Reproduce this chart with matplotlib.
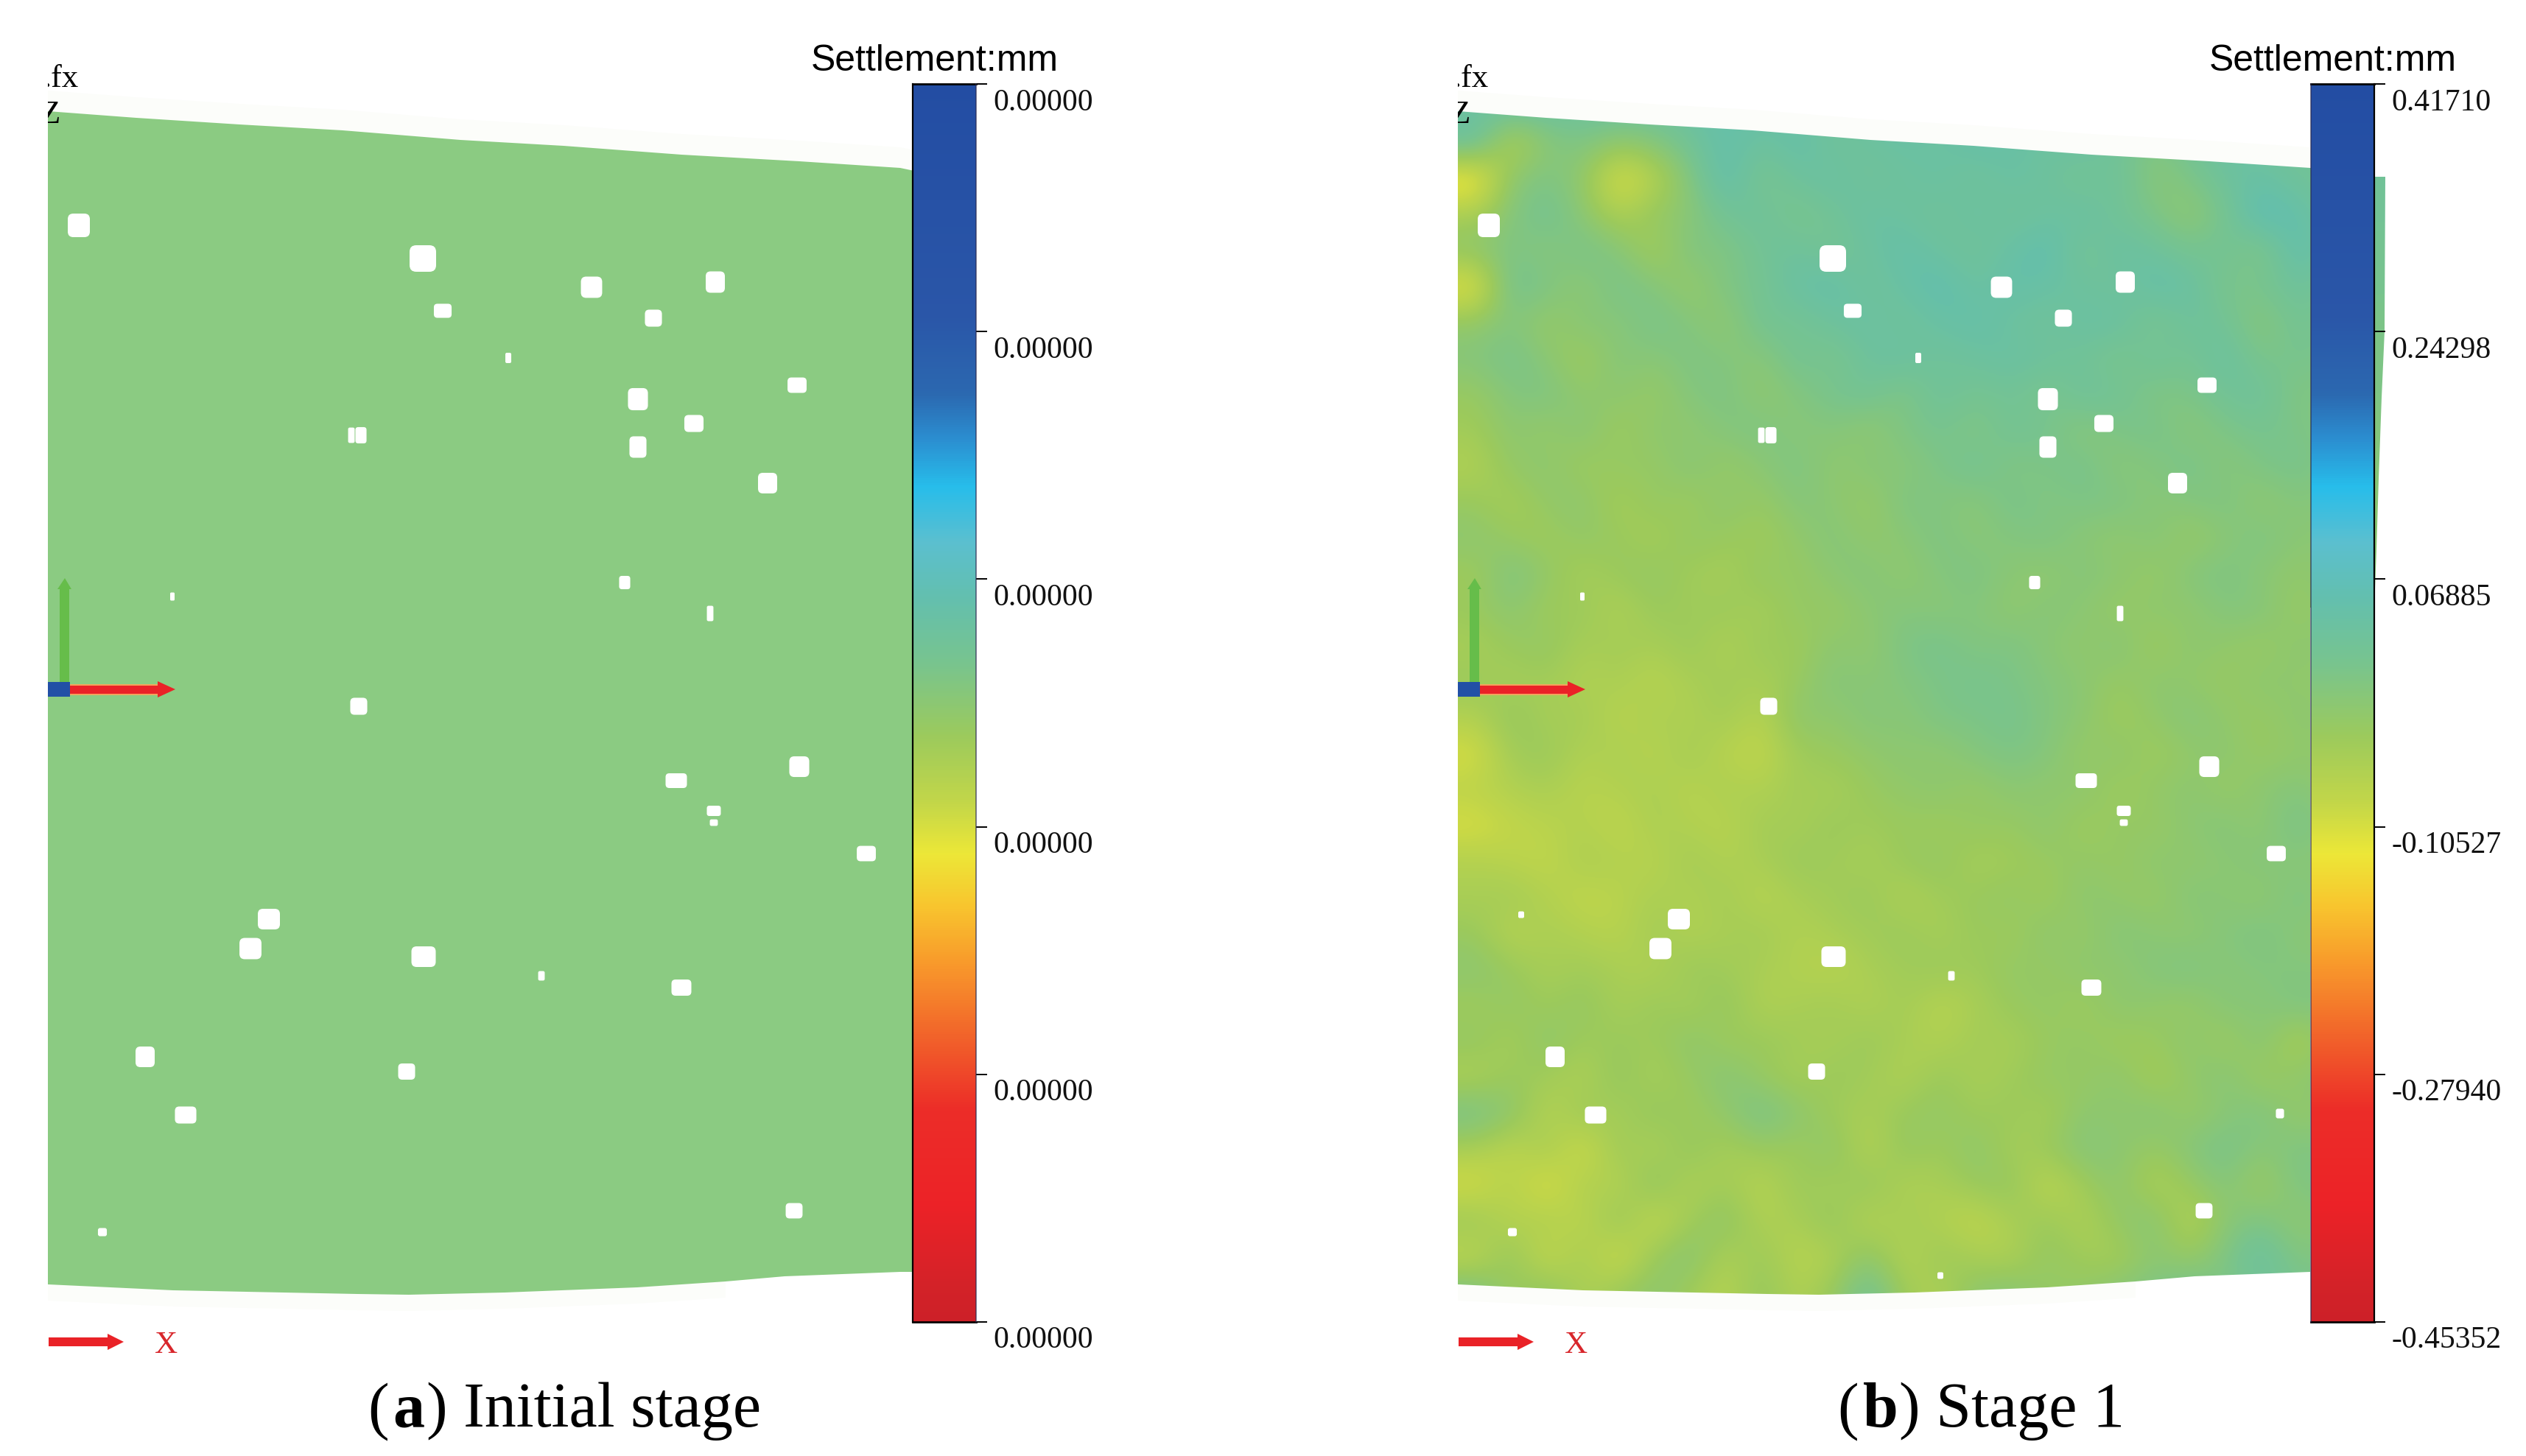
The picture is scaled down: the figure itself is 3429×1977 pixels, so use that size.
import numpy as np
import matplotlib
matplotlib.use("Agg")
import matplotlib.pyplot as plt
from matplotlib.cm import ScalarMappable
from matplotlib.colors import LinearSegmentedColormap, Normalize
from matplotlib.patches import FancyBboxPatch, Polygon, Rectangle
from matplotlib.transforms import ScaledTranslation

W, H = 3430, 1977

TICKS_A = ["0.00000"] * 6
TICKS_B = ["0.41710", "0.24298", "0.06885", "-0.10527", "-0.27940", "-0.45352"]
VMAX_B, VMIN_B = 0.41710, -0.45352
CAPTION_A = ("(", "a", ") Initial stage")
CAPTION_B = ("(", "b", ") Stage 1")

# colour bar stops, read from top (0) to bottom (1)
BAR_POS = [0, .187, .25, .285, .325, .37, .415, .468, .527, .58, .622, .664, .71, .762, .828, .906, .97, 1]
BAR_COL = ["#234da3", "#2a56a8", "#2b68b0", "#2b8ccf", "#27bdea", "#5bbfcf", "#63bfae", "#78c48e", "#9cca5c",
           "#c2d649", "#ece737", "#f8c52e", "#f89a2b", "#f26a2a", "#ec2d28", "#ec2227", "#d42228", "#cc2028"]

# scanned surface outline, x measured from the left crop edge
TOP_X = [0, 120, 260, 400, 560, 700, 860, 1020, 1157, 1176]
TOP_Y = [151, 160, 169, 177, 190, 198, 210, 219, 228, 232]
BOT_X = [1176, 1157, 1000, 920, 800, 620, 490, 420, 170, 0]
BOT_Y = [1727, 1727, 1733, 1740, 1748, 1755, 1758, 1757, 1752, 1744]

# voids in the point cloud: x from left crop edge, y, width, height
HOLE_X = [42, 509, 536, 738, 822, 906, 625, 1017, 801, 877, 801, 977, 412, 425, 169, 783, 899, 422, 853, 1020,
          904, 904, 1111, 300, 275, 510, 670, 860, 132, 487, 187, 1013, 74]
HOLE_Y = [306, 351, 422, 390, 432, 383, 486, 523, 542, 575, 607, 656, 591, 591, 810, 791, 833, 959, 1060, 1041,
          1101, 1117, 1159, 1248, 1288, 1299, 1325, 1341, 1435, 1455, 1514, 1644, 1673]
HOLE_W = [30, 36, 24, 29, 23, 26, 8, 26, 27, 26, 23, 26, 9, 15, 6, 15, 9, 23, 29, 27,
          19, 11, 26, 30, 30, 33, 9, 27, 26, 23, 29, 23, 12]
HOLE_H = [32, 36, 19, 29, 23, 29, 14, 21, 30, 23, 29, 28, 21, 22, 11, 18, 21, 23, 20, 28,
          14, 9, 21, 28, 29, 28, 13, 22, 28, 22, 23, 21, 11]
# small voids seen only in stage 1
HOLE_X_B = [86, 1116, 655]
HOLE_Y_B = [1242, 1512, 1732]
HOLE_W_B = [8, 11, 8]
HOLE_H_B = [9, 13, 9]

# settlement of stage 1 in 0.01 mm, estimated from the colours in the picture
STAGE1 = [
    [2, 3, 3, 2, 3, 2, 3, 4, 3, 3, 2, 3, 4, 3, 3, 3, 4, 4, 3, 3, 3, 3, 3, 3, 3, 3],
    [3, -9, -3, -1, -4, -2, 1, 4, 2, 4, 1, 2, 3, 2, 4, 3, 2, 3, 1, -2, 1, 3, 2, 1, 2, 2],
    [-16, -3, -1, -4, -13, -9, -2, 5, -1, 2, 3, 1, 2, 3, 1, 3, 2, 0, 2, -3, -1, 2, 3, 1, 1, 1],
    [-7, -2, 1, -3, -8, -4, -3, 1, 2, -1, 1, 3, 2, 1, 3, 1, 2, 3, 1, -1, -4, 0, 6, 4, 1, 1],
    [-3, -1, -3, 0, -2, -7, -1, -2, 1, 2, 0, 2, 4, 2, 1, 3, 5, 0, 3, 2, 0, 1, -2, 5, 1, 0],
    [-14, 1, -1, -4, 0, -2, -5, -1, 0, 3, 4, 1, 3, 5, 2, 4, 3, 2, 1, 4, 3, -1, 0, 2, 0, 0],
    [-4, -2, -5, -2, -3, 0, -2, -4, 1, 0, 2, 3, 1, 3, 4, 2, 1, 3, 3, -1, 2, 1, -3, 1, -1, -1],
    [-2, 0, -3, -6, -2, -3, -1, -2, -3, 1, -1, 2, 3, 1, 2, 3, 2, 1, -1, 2, 0, 3, -1, 0, -1, -1],
    [-5, -2, -1, -4, -3, -5, -2, -1, -4, -2, 0, 1, -2, 2, 0, 1, -1, 2, 1, -2, -1, 1, 2, -2, -1, -1],
    [-6, -3, -5, -2, -6, -3, -4, -2, -1, -3, -2, -4, -1, 0, -2, 1, 0, -3, -1, 0, -3, -1, 0, -1, -2, -2],
    [-8, -4, -3, -6, -4, -5, -2, -5, -3, -1, -4, -2, -3, -1, 1, -2, -1, 0, -3, -2, 0, -3, -1, 0, -2, -2],
    [-5, -7, -4, -3, -7, -4, -6, -3, -5, -2, -3, -5, -1, -2, -3, 0, -2, -1, -1, -3, -2, -1, -4, -2, -3, -3],
    [-3, -5, -6, -4, -5, -7, -4, -5, -6, -4, -2, -4, -3, -1, -3, -2, -1, -3, -4, -2, -5, -3, -1, -3, -3, -3],
    [-6, -1, -4, -7, -5, -4, -6, -7, -4, -5, -3, -2, -4, -2, -1, -3, -4, -2, -3, -5, -2, -1, -3, -4, -3, -3],
    [-5, -3, -6, -5, -8, -5, -6, -5, -7, -4, -5, -3, -2, -3, -2, -4, -2, -3, -5, -3, -4, -2, -2, -5, -3, -3],
    [-7, -5, -4, -7, -6, -7, -5, -8, -5, -6, -3, -4, -1, 0, -2, -1, -3, -4, -2, -6, -3, -4, -5, -3, -4, -4],
    [-5, -7, -6, -8, -7, -9, -7, -6, -7, -5, -2, -3, -2, -1, 0, -1, -2, -3, -5, -3, -4, -5, -3, -4, -4, -4],
    [-8, -4, -7, -6, -9, -7, -8, -6, -9, -3, -4, -2, -3, -1, -1, 0, -2, -3, -6, -4, -2, -4, -5, -3, -4, -4],
    [-12, -6, -5, -8, -7, -9, -6, -9, -10, -6, -5, -4, -3, -4, -2, -1, -2, -5, -3, -6, -4, -3, -5, -4, -4, -4],
    [-9, -8, -7, -9, -8, -7, -9, -7, -8, -6, -7, -5, -4, -3, -5, -3, -4, -3, -6, -4, -3, -5, -3, -2, -4, -4],
    [-12, -10, -9, -8, -10, -7, -8, -9, -6, -7, -5, -6, -5, -6, -4, -5, -3, -6, -4, -5, -3, -2, -4, 0, -3, -3],
    [-8, -9, -10, -7, -8, -9, -6, -8, -7, -5, -6, -7, -5, -4, -7, -6, -5, -4, -5, -3, -4, -3, -2, -3, -3, -3],
    [-7, -6, -8, -10, -9, -7, -8, -6, -9, -7, -6, -5, -8, -6, -5, -4, -6, -3, -4, -5, -2, -3, -4, -1, -3, -3],
    [-5, -9, -7, -8, -9, -6, -8, -7, -6, -8, -7, -6, -5, -7, -5, -6, -3, -5, -2, -3, -4, -2, -1, -3, -3, -3],
    [-3, -5, -7, -6, -7, -8, -5, -6, -7, -8, -9, -7, -6, -5, -6, -4, -5, -3, -4, -2, -1, -3, -2, -2, -2, -2],
    [-6, -4, -6, -4, -7, -5, -7, -4, -8, -7, -6, -8, -6, -9, -7, -5, -4, -6, -3, -4, -5, -2, -3, -1, -2, -2],
    [-4, -7, -3, -6, -5, -6, -3, -6, -5, -6, -7, -5, -7, -8, -6, -7, -5, -4, -6, -5, -3, -6, -2, -8, -3, -3],
    [-8, -5, -6, -8, -4, -7, -5, -2, -5, -7, -5, -6, -8, -5, -7, -6, -4, -5, -3, -7, -4, -2, -6, -3, -3, -3],
    [0, -3, -9, -5, -7, -4, -6, -4, 0, -3, -6, -7, -5, -4, -6, -5, -7, -3, -4, -2, -5, -3, -1, -5, -3, -3],
    [-7, -10, -6, -12, -5, -8, -4, -7, -5, -6, -3, -9, -4, -6, -3, -7, -5, -2, -3, -5, -2, 0, -3, -1, -2, -2],
    [-12, -8, -13, -7, -9, -3, -8, -6, -9, -5, -7, -4, -8, -7, -5, -4, -10, -6, -3, -8, -5, -2, -6, -1, -2, -2],
    [-5, -9, -7, -10, -4, -11, -6, -3, -8, -7, -4, -9, -6, -8, -10, -7, -5, -8, -4, -2, -9, -3, -1, -4, -2, -2],
    [-10, -4, -11, -6, -12, -5, -2, -8, -5, -9, -8, -3, -9, -5, -7, -8, -4, -6, -7, -3, -5, -1, 3, -2, -1, -1],
    [0, -6, -3, -8, -5, -3, -6, -9, -4, -8, -5, 2, -6, -8, -3, -2, -5, -4, -2, -1, 1, -2, 1, 0, 0, 0],
]
# the table above read a little too yellow against the reference
FIELD_SHIFT = 0.012

SERIF = "Liberation Serif"
SANS = "Liberation Sans"

stops = list(zip(1 - np.array(BAR_POS[::-1]), BAR_COL[::-1]))
bar_cmap = LinearSegmentedColormap.from_list("settlement", stops, N=512)

fig = plt.figure(figsize=(W / 100, H / 100), dpi=100, facecolor="white")
ax = fig.add_axes([0, 0, 1, 1])
ax.axis("off")
ax.set_xlim(0, W)
ax.set_ylim(H, 0)


def outline(x0):
    top = [(x0 + x, y) for x, y in zip(TOP_X, TOP_Y)]
    bot = [(x0 + x, y) for x, y in zip(BOT_X, BOT_Y)]
    return top, bot


def draw_holes(x0, xs, ys, ws, hs):
    for x, y, w, h in zip(xs, ys, ws, hs):
        r = min(w, h) * 0.25
        box = FancyBboxPatch((x0 + x - w / 2 + r, y - h / 2 + r), w - 2 * r, h - 2 * r,
                             boxstyle="round,pad=%.1f" % r, fc="white", ec="none", zorder=3)
        ax.add_patch(box)


def draw_fringe(x0):
    # pale compression halo next to the top and bottom of the scan
    top, bot = outline(x0)
    upper = [(x, y - 28) for x, y in top[::-1]]
    ax.add_patch(Polygon(top + upper, fc="#fcfdfa", ec="none", zorder=1))
    lower = [(x, y + 22) for x, y in bot[3:][::-1]]
    ax.add_patch(Polygon(bot[3:] + lower, fc="#fcfdfa", ec="none", zorder=1))


def draw_triad(x0):
    d = x0 - 65
    # vertical green axis
    ax.add_patch(Polygon([(d + 81, 930), (d + 81, 800), (d + 78, 800), (d + 88, 785), (d + 97, 800),
                          (d + 94, 800), (d + 94, 930)], fc="#66bd4a", ec="none", zorder=4))
    # red axis
    ax.add_patch(Rectangle((d + 94, 929), 126, 15, fc="#f2a35c", ec="none", zorder=4))
    ax.add_patch(Polygon([(d + 94, 931), (d + 214, 931), (d + 214, 925), (d + 238, 936), (d + 214, 947),
                          (d + 214, 942), (d + 94, 942)], fc="#ea2227", ec="none", zorder=5))
    # blue stub
    ax.add_patch(Rectangle((d + 65, 926), 30, 20, fc="#2250a6", ec="none", zorder=6))
    # bottom x arrow and letters
    ax.add_patch(Polygon([(d + 66, 1816), (d + 146, 1816), (d + 146, 1811), (d + 168, 1822), (d + 146, 1833),
                          (d + 146, 1828), (d + 66, 1828)], fc="#e92227", ec="none", zorder=4))
    ax.text(d + 226, 1837, "X", family=SERIF, fontsize=31, color="#d8262b", ha="center", va="baseline", zorder=4)
    clip = Rectangle((d + 65, 0), 200, 300, transform=ax.transData)
    t1 = ax.text(d + 58, 118, ".fx", family=SERIF, fontsize=32, color="black", ha="left", va="baseline",
                 zorder=6, clip_on=True)
    t2 = ax.text(d + 55, 167, "Z", family=SERIF, fontsize=32, color="black", ha="left", va="baseline",
                 zorder=6, clip_on=True)
    t1.set_clip_path(clip)
    t2.set_clip_path(clip)


def draw_caption(x, y, parts):
    r = fig.canvas.get_renderer()
    for i, part in enumerate(parts):
        t = ax.text(x, y, part, family=SERIF, fontsize=62, color="black", ha="left", va="baseline",
                    fontweight="bold" if i == 1 else "normal")
        x = t.get_window_extent(r).x1 + (6 if i == 0 else 2)


def draw_bar(x0, labels, black_side):
    bar = fig.add_axes([x0 / W, 1 - 1795 / H, 86 / W, 1681 / H])
    sm = ScalarMappable(norm=Normalize(0, 1), cmap=bar_cmap)
    cb = fig.colorbar(sm, cax=bar)
    cb.outline.set_visible(False)
    bar.yaxis.set_ticks(np.linspace(1, 0, 6))
    bar.yaxis.set_ticklabels(labels, family=SERIF, fontsize=30, va="top", color="#111111")
    bar.tick_params(axis="y", length=11, width=1.4, pad=6, color="black")
    shift = ScaledTranslation(0, -6 / 100, fig.dpi_scale_trans)
    for lab in bar.yaxis.get_ticklabels():
        lab.set_transform(lab.get_transform() + shift)
    bar.plot([0, 1], [1, 1], color="black", lw=2, clip_on=False)
    bar.plot([0, 1], [0, 0], color="black", lw=2, clip_on=False)
    edge = 0 if black_side == "left" else 1
    bar.plot([edge, edge], [0, 1], color="black", lw=1.6, clip_on=False)
    bar.plot([1 - edge, 1 - edge], [0, 1], color="#2a2a50", lw=1.2, alpha=0.7, clip_on=False)
    fig.text((x0 + 30) / W, 1 - 96 / H, "Settlement:mm", family=SANS, fontsize=36, color="black",
             ha="center", va="baseline")


# panel a: every point has the same zero settlement
x_a = 65
top, bot = outline(x_a)
draw_fringe(x_a)
ax.add_patch(Polygon(top + bot, fc="#8bcb82", ec="none", zorder=2))
draw_holes(x_a, HOLE_X, HOLE_Y, HOLE_W, HOLE_H)
draw_triad(x_a)
draw_bar(1239, TICKS_A, "left")
draw_caption(499, 1937, CAPTION_A)

# panel b: interpolated settlement field clipped to the scan outline
x_b = 1979
top, bot = outline(x_b)
draw_fringe(x_b)
strip_x = [3223, 3238, 3237, 3233, 3229, 3226, 3223, 3136]
strip_y = [240, 240, 450, 540, 650, 748, 825, 825]
shape = Polygon(top[:-1] + list(zip(strip_x, strip_y)) + bot[1:], transform=ax.transData, fc="none", ec="none")
field = np.array(STAGE1) / 100 + FIELD_SHIFT
im = ax.imshow(field, extent=(x_b, 3240, 1780, 120), cmap=bar_cmap, vmin=VMIN_B, vmax=VMAX_B,
               interpolation="bicubic", aspect="auto", zorder=2)
ax.add_patch(shape)
im.set_clip_path(shape)
draw_holes(x_b, HOLE_X, HOLE_Y, HOLE_W, HOLE_H)
draw_holes(x_b, HOLE_X_B, HOLE_Y_B, HOLE_W_B, HOLE_H_B)
draw_triad(x_b)
draw_bar(3137, TICKS_B, "right")
ax.set_xlim(0, W)
ax.set_ylim(H, 0)
draw_caption(2494, 1937, CAPTION_B)

fig.savefig("out.png", dpi=100, facecolor="white")
